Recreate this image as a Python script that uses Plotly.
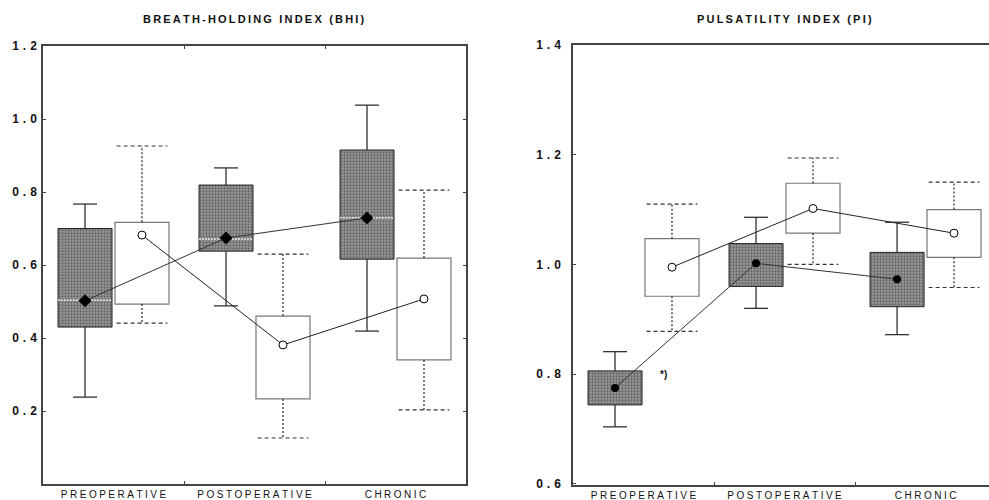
import numpy as np
import plotly.graph_objects as go

categories = ["PREOPERATIVE", "POSTOPERATIVE", "CHRONIC"]

# Breath-holding index (BHI) - dark (group A) and white (group B) boxes
bhi_dark_low = [0.238, 0.488, 0.419]
bhi_dark_q1 = [0.430, 0.638, 0.616]
bhi_dark_median = [0.504, 0.671, 0.729]
bhi_dark_q3 = [0.700, 0.819, 0.915]
bhi_dark_high = [0.767, 0.866, 1.038]
bhi_dark_mean = [0.502, 0.674, 0.729]

bhi_white_low = [0.441, 0.126, 0.203]
bhi_white_q1 = [0.493, 0.233, 0.340]
bhi_white_q3 = [0.717, 0.460, 0.619]
bhi_white_high = [0.926, 0.630, 0.805]
bhi_white_mean = [0.682, 0.381, 0.507]

# Pulsatility index (PI)
pi_dark_low = [0.704, 0.920, 0.872]
pi_dark_q1 = [0.744, 0.960, 0.923]
pi_dark_q3 = [0.806, 1.038, 1.022]
pi_dark_high = [0.841, 1.086, 1.077]
pi_dark_mean = [0.775, 1.002, 0.973]

pi_white_low = [0.878, 1.000, 0.958]
pi_white_q1 = [0.942, 1.057, 1.013]
pi_white_q3 = [1.047, 1.148, 1.100]
pi_white_high = [1.110, 1.194, 1.150]
pi_white_mean = [0.995, 1.102, 1.057]

bhi_ticks = [0.2, 0.4, 0.6, 0.8, 1.0, 1.2]
pi_ticks = [0.6, 0.8, 1.0, 1.2, 1.4]

idx = np.arange(len(categories))
OFF = 0.202
BW = 0.383
CAP_D = 0.17
CAP_W = 0.36

THIN = "\u2009"
FOUR = "\u2005"
THREE = "\u2004"


def spaced(s, sp):
    return sp.join(list(s))


fig = go.Figure()


def segs(xs, y0, y1):
    X, Y = [], []
    for x, a, b in zip(xs, y0, y1):
        X += [x, x, None]
        Y += [a, b, None]
    return X, Y


def hsegs(xs, ys, half):
    X, Y = [], []
    for x, y in zip(xs, ys):
        X += [x - half, x + half, None]
        Y += [y, y, None]
    return X, Y


def panel(xa, ya, dlow, dq1, dmed, dq3, dhigh, dmean, wlow, wq1, wq3, whigh, wmean, dark_symbol, dsize):
    xd = idx - OFF
    xw = idx + OFF
    # whiskers dark
    X, Y = segs(xd, dq3, dhigh)
    X2, Y2 = segs(xd, dq1, dlow)
    fig.add_trace(go.Scatter(x=X + X2, y=Y + Y2, mode="lines", line=dict(color="#222", width=1.2),
                             xaxis=xa, yaxis=ya, hoverinfo="skip", showlegend=False))
    X, Y = hsegs(xd, dhigh, CAP_D / 2)
    X2, Y2 = hsegs(xd, dlow, CAP_D / 2)
    fig.add_trace(go.Scatter(x=X + X2, y=Y + Y2, mode="lines", line=dict(color="#222", width=1.2),
                             xaxis=xa, yaxis=ya, hoverinfo="skip", showlegend=False))
    # whiskers white (dashed)
    X, Y = segs(xw, wq3, whigh)
    X2, Y2 = segs(xw, wq1, wlow)
    fig.add_trace(go.Scatter(x=X + X2, y=Y + Y2, mode="lines", line=dict(color="#222", width=1.2, dash="2px,2px"),
                             xaxis=xa, yaxis=ya, hoverinfo="skip", showlegend=False))
    X, Y = hsegs(xw, whigh, CAP_W / 2)
    X2, Y2 = hsegs(xw, wlow, CAP_W / 2)
    fig.add_trace(go.Scatter(x=X + X2, y=Y + Y2, mode="lines", line=dict(color="#333", width=1.2, dash="4px,3px"),
                             xaxis=xa, yaxis=ya, hoverinfo="skip", showlegend=False))
    # dark boxes
    fig.add_trace(go.Bar(x=xd, base=dq1, y=np.array(dq3) - np.array(dq1), width=BW,
                         marker=dict(color="#8a8a8a", line=dict(color="#222", width=1),
                                     pattern=dict(shape=".", size=3, solidity=0.45, fgcolor="#2e2e2e",
                                                  bgcolor="#9a9a9a")),
                         xaxis=xa, yaxis=ya, hoverinfo="skip", showlegend=False))
    # white boxes
    fig.add_trace(go.Bar(x=xw, base=wq1, y=np.array(wq3) - np.array(wq1), width=BW,
                         marker=dict(color="white", line=dict(color="#777", width=1.2)),
                         xaxis=xa, yaxis=ya, hoverinfo="skip", showlegend=False))
    # medians of dark boxes
    if dmed is not None:
        X, Y = hsegs(xd, dmed, BW / 2)
        fig.add_trace(go.Scatter(x=X, y=Y, mode="lines", line=dict(color="white", width=1.2, dash="2px,1px"),
                                 xaxis=xa, yaxis=ya, hoverinfo="skip", showlegend=False))
    # mean lines
    fig.add_trace(go.Scatter(x=xd, y=dmean, mode="lines+markers",
                             line=dict(color="#333", width=1),
                             marker=dict(symbol=dark_symbol, size=dsize, color="black"),
                             xaxis=xa, yaxis=ya, hoverinfo="skip", showlegend=False))
    fig.add_trace(go.Scatter(x=xw, y=wmean, mode="lines+markers",
                             line=dict(color="#222", width=1),
                             marker=dict(symbol="circle", size=8, color="white", line=dict(color="black", width=1)),
                             xaxis=xa, yaxis=ya, hoverinfo="skip", showlegend=False))


panel("x", "y", bhi_dark_low, bhi_dark_q1, bhi_dark_median, bhi_dark_q3, bhi_dark_high, bhi_dark_mean,
      bhi_white_low, bhi_white_q1, bhi_white_q3, bhi_white_high, bhi_white_mean, "diamond", 10)
panel("x2", "y2", pi_dark_low, pi_dark_q1, None, pi_dark_q3, pi_dark_high, pi_dark_mean,
      pi_white_low, pi_white_q1, pi_white_q3, pi_white_high, pi_white_mean, "circle", 8)

axis_font = dict(family="Liberation Sans, Arial", size=12, color="#111", weight="bold")
xfont = dict(family="Liberation Sans, Arial", size=10, color="#111")

xticktext = [spaced(c, FOUR) for c in categories]

common_x = dict(tickmode="array", tickvals=list(idx), ticktext=xticktext, ticks="",
                showline=True, linecolor="#444", linewidth=1.5, showgrid=False, zeroline=False,
                tickfont=xfont, fixedrange=True, automargin=False,
                minor=dict(tickvals=[0.5, 1.5], ticks="inside", ticklen=3, tickcolor="#444"))
common_y = dict(tickmode="array", ticks="inside", ticklen=3, tickcolor="#444",
                showline=True, linecolor="#444", linewidth=1.5, showgrid=False, zeroline=False,
                tickfont=axis_font, fixedrange=True, automargin=False)

fig.update_layout(
    width=989, height=500,
    margin=dict(l=0, r=0, t=0, b=0),
    paper_bgcolor="white", plot_bgcolor="white",
    barmode="overlay",
    xaxis=dict(domain=[43 / 989, 466 / 989], range=[-0.5, 2.5], mirror="allticks", **common_x),
    yaxis=dict(domain=[1 - 484 / 500, 1 - 46 / 500], range=[0, 1.2], tickvals=bhi_ticks,
               ticktext=[spaced(f"{v:.1f}", THREE) for v in bhi_ticks], mirror="allticks",
               ticklabelstandoff=2, **common_y),
    xaxis2=dict(domain=[573 / 989, 1.0], range=[-0.5, 2.45], mirror=True, anchor="y2", **common_x),
    yaxis2=dict(domain=[1 - 485 / 500, 1 - 45 / 500], range=[0.598, 1.4], tickvals=pi_ticks,
                ticktext=[spaced(f"{v:.1f}", THREE) for v in pi_ticks], anchor="x2",
                ticklabelstandoff=8, **common_y),
    annotations=[
        dict(text=spaced("BREATH-HOLDING INDEX (BHI)", THIN), x=254 / 989, y=1 - 19 / 500,
             xref="paper", yref="paper", showarrow=False, xanchor="center", yanchor="middle",
             font=dict(family="Liberation Sans, Arial", size=11, color="#111", weight="bold")),
        dict(text=spaced("PULSATILITY INDEX (PI)", THIN), x=784 / 989, y=1 - 19 / 500,
             xref="paper", yref="paper", showarrow=False, xanchor="center", yanchor="middle",
             font=dict(family="Liberation Sans, Arial", size=11, color="#111", weight="bold")),
        dict(text="*)", x=idx[0] + 0.14, y=0.8, xref="x2", yref="y2", showarrow=False,
             xanchor="center", yanchor="middle",
             font=dict(family="Liberation Sans, Arial", size=10, color="#111", weight="bold")),
    ],
)

fig.write_html("out.html", config={"displayModeBar": False},
               post_script="document.body.style.margin='0px';document.body.style.overflow='hidden';")
